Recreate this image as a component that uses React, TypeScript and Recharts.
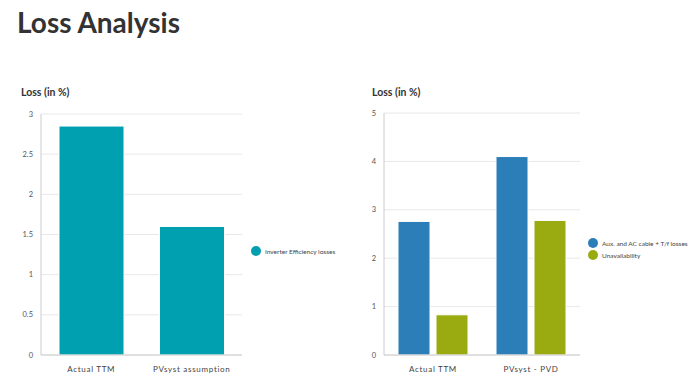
import { BarChart, Bar, XAxis, YAxis, CartesianGrid } from 'recharts';

const leftCategories = ['Actual TTM', 'PVsyst assumption'];
const inverterLosses = [2.85, 1.6];
const leftTicks = [0, 0.5, 1, 1.5, 2, 2.5, 3];

const rightCategories = ['Actual TTM', 'PVsyst - PVD'];
const auxLosses = [2.76, 4.1];
const unavailability = [0.83, 2.78];
const rightTicks = [0, 1, 2, 3, 4, 5];

const TEAL = '#00a0b0';
const BLUE = '#2b7eb8';
const OLIVE = '#9aab12';
const FONT = 'Lato, "Open Sans", sans-serif';

const leftData = leftCategories.map((name, i) => ({ name, inverter: inverterLosses[i] }));
const rightData = rightCategories.map((name, i) => ({ name, aux: auxLosses[i], unavail: unavailability[i] }));

const tickStyle = { fill: '#555', fontSize: 7.5, fontFamily: FONT };
const catStyle = { fill: '#444', fontSize: 8, fontFamily: FONT, letterSpacing: 0.7 };

function LegendItem({ color, label }: { color: string; label: string }) {
  return (
    <div style={{ display: 'flex', alignItems: 'center', height: 12 }}>
      <span style={{ width: 10, height: 10, borderRadius: 5, background: color, display: 'inline-block', marginRight: 4 }} />
      <span style={{ fontSize: 6.5, color: '#444', fontFamily: FONT }}>{label}</span>
    </div>
  );
}

export default function App() {
  return (
    <div style={{ position: 'absolute', left: 0, top: 0, width: 696, height: 380, background: '#fff', fontFamily: FONT, overflow: 'hidden' }}>
      <div style={{ position: 'absolute', left: 17, top: 6, fontSize: 28, fontWeight: 700, color: '#333', lineHeight: 1.2 }}>
        Loss Analysis
      </div>
      <div style={{ position: 'absolute', left: 21, top: 86, fontSize: 10.5, fontWeight: 700, color: '#333' }}>Loss (in %)</div>
      <div style={{ position: 'absolute', left: 372, top: 86, fontSize: 10.5, fontWeight: 700, color: '#333' }}>Loss (in %)</div>

      <div style={{ position: 'absolute', left: 0, top: 0 }}>
        <BarChart width={250} height={380} data={leftData} margin={{ top: 114, right: 8, bottom: 5, left: 0 }} barCategoryGap={18}>
          <CartesianGrid vertical={false} stroke="#e8e8e8" />
          <XAxis dataKey="name" axisLine={{ stroke: '#ccc' }} tickLine={false} tick={catStyle} tickMargin={5} height={20} />
          <YAxis width={41} domain={[0, 3]} ticks={leftTicks} axisLine={{ stroke: '#ccc' }} tickLine={false} tick={tickStyle} />
          <Bar dataKey="inverter" fill={TEAL} stroke="#fff" strokeWidth={1} isAnimationActive={false} />
        </BarChart>
      </div>
      <div style={{ position: 'absolute', left: 251, top: 245 }}>
        <LegendItem color={TEAL} label="Inverter Efficiency losses" />
      </div>

      <div style={{ position: 'absolute', left: 340, top: 0 }}>
        <BarChart width={250} height={380} data={rightData} margin={{ top: 113, right: 10, bottom: 5, left: 0 }} barCategoryGap={14} barGap={6}>
          <CartesianGrid vertical={false} stroke="#e8e8e8" />
          <XAxis dataKey="name" axisLine={{ stroke: '#ccc' }} tickLine={false} tick={catStyle} tickMargin={5} height={20} />
          <YAxis width={44} domain={[0, 5]} ticks={rightTicks} axisLine={{ stroke: '#ccc' }} tickLine={false} tick={tickStyle} />
          <Bar dataKey="aux" fill={BLUE} stroke="#fff" strokeWidth={1} isAnimationActive={false} />
          <Bar dataKey="unavail" fill={OLIVE} stroke="#fff" strokeWidth={1} isAnimationActive={false} />
        </BarChart>
      </div>
      <div style={{ position: 'absolute', left: 588, top: 237 }}>
        <LegendItem color={BLUE} label="Aux. and AC cable + T/f losses" />
        <LegendItem color={OLIVE} label="Unavailability" />
      </div>
    </div>
  );
}
